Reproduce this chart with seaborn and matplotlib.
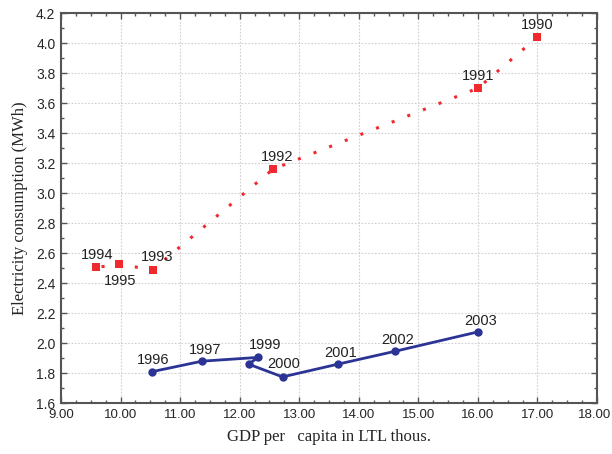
import numpy as np
import pandas as pd
import seaborn as sns
import matplotlib.pyplot as plt
import matplotlib.transforms as mtransforms
from matplotlib.ticker import MultipleLocator

# -------------------- Data --------------------
red_years = ["1990", "1991", "1992", "1993", "1995", "1994"]
red_gdp = [17.00, 16.00, 12.56, 10.54, 9.97, 9.59]
red_elec = [4.04, 3.70, 3.16, 2.49, 2.525, 2.505]

blue_years = ["1996", "1997", "1998", "1999", "2000", "2001", "2002", "2003"]
blue_gdp = [10.53, 11.37, 12.31, 12.15, 12.72, 13.65, 14.60, 16.00]
blue_elec = [1.81, 1.88, 1.905, 1.86, 1.775, 1.86, 1.945, 2.075]
blue_labels = ["1996", "1997", "1999", "", "2000", "2001", "2002", "2003"]

x_ticks = np.arange(9, 18.01, 1.0)
y_ticks = np.arange(1.6, 4.21, 0.2)

RED = "#ee2a2f"
BLUE = "#2b3495"

# -------------------- Plot --------------------
sns.set_style("ticks")
plt.rcParams["font.family"] = ["Liberation Sans", "DejaVu Sans"]

fig = plt.figure(figsize=(6.12, 4.54), dpi=100)
ax = fig.add_axes([0.0997, 0.112, 0.8758, 0.859])

red_df = pd.DataFrame({"gdp": red_gdp, "elec": red_elec, "year": red_years})
blue_df = pd.DataFrame({"gdp": blue_gdp, "elec": blue_elec, "year": blue_years})

# dotted connecting line for 1990-1995
ax.plot(red_df["gdp"], red_df["elec"], color=RED, lw=2.2,
        linestyle=(0, (1, 4.5)), zorder=2)
sns.scatterplot(data=red_df, x="gdp", y="elec", marker="s", s=40,
                color=RED, edgecolor=RED, linewidth=0, ax=ax, zorder=3)

sns.lineplot(data=blue_df, x="gdp", y="elec", sort=False, color=BLUE,
             lw=2, marker="o", markersize=6, markeredgewidth=0, ax=ax,
             zorder=3)

# point labels
red_offsets = {"1990": (0, 4), "1991": (0, 4), "1992": (3, 4),
               "1993": (3, 4), "1994": (1, 4), "1995": (1, -17)}
for g, e, yr in zip(red_gdp, red_elec, red_years):
    dx, dy = red_offsets[yr]
    ax.annotate(yr, (g, e), xytext=(dx, dy), textcoords="offset points",
                ha="center", va="bottom", fontsize=10.5, color="#222222")

blue_offsets = {"1996": (1, 3), "1997": (2, 3), "1999": (5, 4),
                "2000": (1, 4), "2001": (2, 3), "2002": (2, 3), "2003": (2, 3)}
for g, e, lab in zip(blue_gdp, blue_elec, blue_labels):
    if not lab:
        continue
    dx, dy = blue_offsets[lab]
    ax.annotate(lab, (g, e), xytext=(dx, dy), textcoords="offset points",
                ha="center", va="bottom", fontsize=10.5, color="#222222")

# -------------------- Axes styling --------------------
ax.set_xlim(9, 18)
ax.set_ylim(1.6, 4.2)
ax.set_xticks(x_ticks)
ax.set_yticks(y_ticks)
ax.set_xticklabels([f"{v:.2f}" for v in x_ticks], fontsize=9.5)
ax.set_yticklabels([f"{v:.1f}" for v in y_ticks], fontsize=10)
ax.xaxis.set_minor_locator(MultipleLocator(0.25))
ax.yaxis.set_minor_locator(MultipleLocator(0.1))
ax.tick_params(which="both", direction="in", top=True, right=True,
               color="#555555", width=1)
ax.tick_params(which="major", length=4, pad=4)
ax.tick_params(which="minor", length=2.5)

# nudge the last x label so it stays inside the figure
last = ax.get_xticklabels()[-1]
last.set_transform(last.get_transform()
                   + mtransforms.ScaledTranslation(-2 / 72, 0, fig.dpi_scale_trans))

ax.grid(False, which="minor")
ax.grid(True, which="major", linestyle=(0, (1.5, 1.5)), color="#d0d0d0",
        lw=0.8)
for sp in ax.spines.values():
    sp.set_color("#555555")
    sp.set_linewidth(1.5)

ax.set_xlabel("GDP per   capita in LTL thous.", family="Liberation Serif",
              fontsize=12, labelpad=6)
ax.set_ylabel("Electricity consumption (MWh)", family="Liberation Serif",
              fontsize=12, labelpad=6)

fig.savefig("out.png", dpi=100)
